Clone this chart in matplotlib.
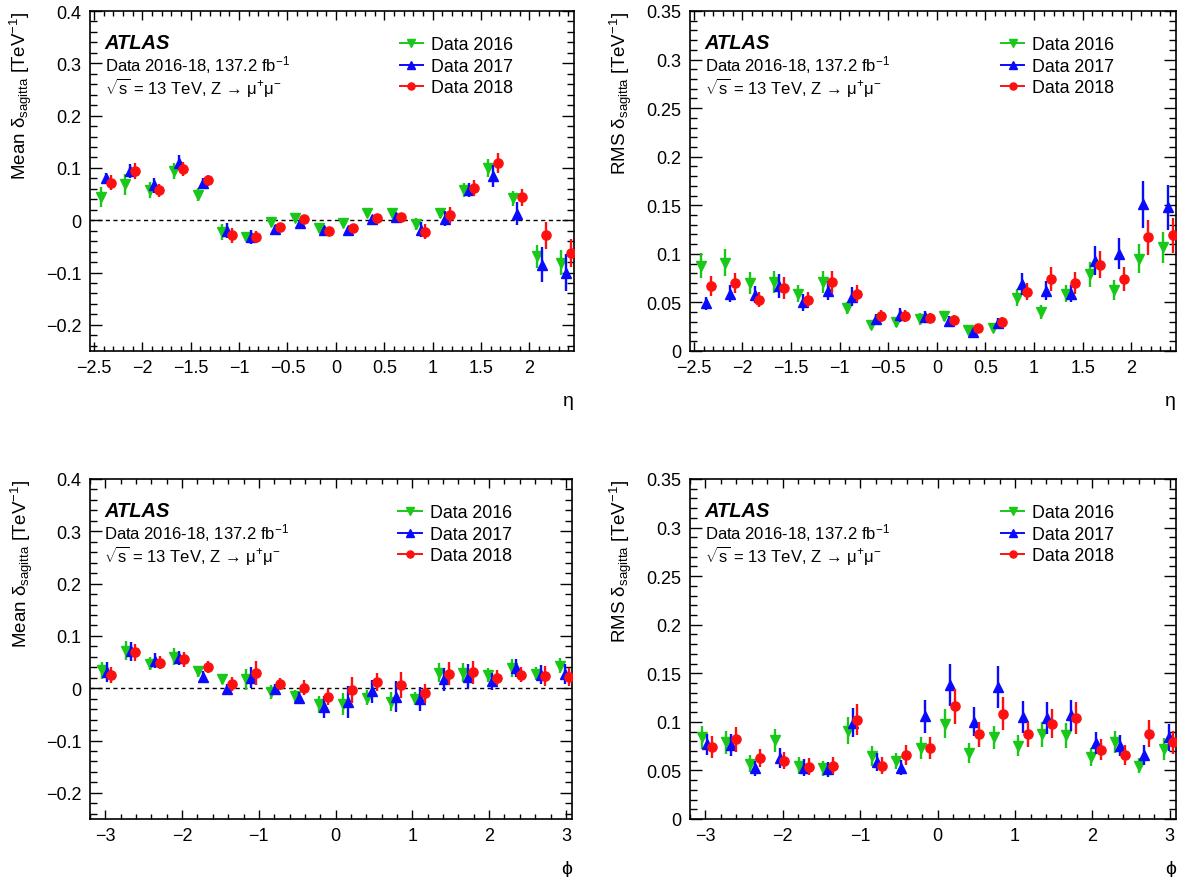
import matplotlib
matplotlib.use("Agg")
import matplotlib.pyplot as plt
import numpy as np
from matplotlib.lines import Line2D
from matplotlib.ticker import MultipleLocator, FuncFormatter

plt.rcParams['font.family'] = ['Liberation Sans', 'DejaVu Sans']
plt.rcParams['mathtext.fontset'] = 'custom'
plt.rcParams['mathtext.rm'] = 'Liberation Sans'
plt.rcParams['mathtext.it'] = 'Liberation Sans:italic'
plt.rcParams['mathtext.bf'] = 'Liberation Sans:bold'

# binning
eta_edges = np.linspace(-2.5, 2.5, 21)
phi_edges = np.linspace(-np.pi, np.pi, 21)
eta_x = 0.5 * (eta_edges[1:] + eta_edges[:-1])
phi_x = 0.5 * (phi_edges[1:] + phi_edges[:-1])

years = ["Data 2016", "Data 2017", "Data 2018"]

# mean sagitta bias vs eta
mean_eta_2016 = [0.044, 0.069, 0.058, 0.094, 0.049, -0.022, -0.032, -0.004, 0.004, -0.015,
                 -0.005, 0.014, 0.014, -0.007, 0.014, 0.058, 0.100, 0.042, -0.069, -0.081]
mean_eta_2016_err = [0.019, 0.020, 0.016, 0.016, 0.013, 0.015, 0.007, 0.005, 0.005, 0.005,
                     0.005, 0.005, 0.005, 0.012, 0.009, 0.013, 0.017, 0.014, 0.022, 0.024]
mean_eta_2017 = [0.080, 0.094, 0.067, 0.110, 0.071, -0.020, -0.032, -0.016, -0.005, -0.019,
                 -0.018, 0.003, 0.007, -0.018, 0.003, 0.058, 0.084, 0.012, -0.085, -0.100]
mean_eta_2017_err = [0.010, 0.013, 0.014, 0.014, 0.010, 0.014, 0.013, 0.006, 0.006, 0.005,
                     0.006, 0.006, 0.006, 0.015, 0.014, 0.014, 0.021, 0.022, 0.033, 0.035]
mean_eta_2018 = [0.072, 0.094, 0.057, 0.098, 0.076, -0.029, -0.032, -0.012, 0.002, -0.020,
                 -0.015, 0.004, 0.006, -0.022, 0.010, 0.062, 0.110, 0.044, -0.029, -0.062]
mean_eta_2018_err = [0.014, 0.015, 0.012, 0.014, 0.010, 0.015, 0.012, 0.006, 0.006, 0.006,
                     0.006, 0.006, 0.006, 0.014, 0.016, 0.015, 0.019, 0.016, 0.026, 0.027]

# rms vs eta
rms_eta_2016 = [0.088, 0.091, 0.070, 0.071, 0.059, 0.071, 0.044, 0.027, 0.030, 0.033,
                0.036, 0.022, 0.024, 0.055, 0.040, 0.059, 0.079, 0.063, 0.095, 0.107]
rms_eta_2016_err = [0.013, 0.014, 0.011, 0.011, 0.009, 0.011, 0.006, 0.004, 0.005, 0.006,
                    0.005, 0.003, 0.004, 0.009, 0.007, 0.009, 0.013, 0.010, 0.015, 0.016]
rms_eta_2017 = [0.049, 0.059, 0.058, 0.067, 0.050, 0.062, 0.056, 0.033, 0.037, 0.035,
                0.031, 0.020, 0.029, 0.069, 0.062, 0.059, 0.093, 0.100, 0.151, 0.148]
rms_eta_2017_err = [0.007, 0.009, 0.009, 0.012, 0.009, 0.010, 0.010, 0.005, 0.007, 0.006,
                    0.005, 0.003, 0.005, 0.011, 0.010, 0.009, 0.015, 0.016, 0.024, 0.023]
rms_eta_2018 = [0.067, 0.070, 0.053, 0.065, 0.053, 0.071, 0.059, 0.036, 0.036, 0.034,
                0.032, 0.024, 0.030, 0.061, 0.074, 0.070, 0.089, 0.074, 0.117, 0.119]
rms_eta_2018_err = [0.010, 0.010, 0.008, 0.011, 0.008, 0.011, 0.009, 0.006, 0.006, 0.005,
                    0.005, 0.004, 0.005, 0.009, 0.012, 0.011, 0.014, 0.012, 0.018, 0.018]

# mean vs phi
mean_phi_2016 = [0.034, 0.072, 0.047, 0.060, 0.032, 0.018, 0.017, -0.007, -0.015, -0.031,
                 -0.031, -0.018, -0.026, -0.020, 0.030, 0.030, 0.025, 0.039, 0.028, 0.043]
mean_phi_2016_err = [0.017, 0.018, 0.013, 0.016, 0.010, 0.010, 0.020, 0.014, 0.012, 0.016,
                     0.021, 0.014, 0.018, 0.012, 0.018, 0.018, 0.014, 0.017, 0.013, 0.014]
mean_phi_2017 = [0.031, 0.071, 0.053, 0.058, 0.022, -0.002, 0.020, -0.002, -0.018, -0.035,
                 -0.026, -0.006, -0.016, -0.020, 0.017, 0.022, 0.013, 0.038, 0.026, 0.028]
mean_phi_2017_err = [0.020, 0.018, 0.014, 0.014, 0.010, 0.010, 0.020, 0.011, 0.010, 0.021,
                     0.030, 0.022, 0.030, 0.023, 0.022, 0.024, 0.017, 0.017, 0.018, 0.019]
mean_phi_2018 = [0.025, 0.069, 0.049, 0.055, 0.041, 0.008, 0.029, 0.008, 0.001, -0.017,
                 -0.004, 0.012, 0.006, -0.010, 0.028, 0.031, 0.020, 0.026, 0.024, 0.022]
mean_phi_2018_err = [0.015, 0.016, 0.013, 0.014, 0.012, 0.013, 0.023, 0.012, 0.014, 0.016,
                     0.025, 0.018, 0.025, 0.018, 0.022, 0.022, 0.014, 0.014, 0.019, 0.017]

# rms vs phi
rms_phi_2016 = [0.084, 0.079, 0.057, 0.081, 0.055, 0.052, 0.091, 0.065, 0.0595, 0.073,
                0.098, 0.068, 0.084, 0.0755, 0.087, 0.086, 0.064, 0.079, 0.055, 0.072]
rms_phi_2016_err = [0.012, 0.012, 0.0085, 0.012, 0.009, 0.008, 0.014, 0.010, 0.0085, 0.011,
                    0.015, 0.010, 0.012, 0.011, 0.013, 0.013, 0.009, 0.0115, 0.0075, 0.011]
rms_phi_2017 = [0.077, 0.076, 0.052, 0.063, 0.053, 0.051, 0.099, 0.0585, 0.053, 0.106,
                0.138, 0.100, 0.136, 0.105, 0.104, 0.107, 0.078, 0.0755, 0.066, 0.084]
rms_phi_2017_err = [0.011, 0.011, 0.008, 0.010, 0.0085, 0.008, 0.015, 0.009, 0.0075, 0.017,
                    0.022, 0.015, 0.022, 0.016, 0.016, 0.016, 0.0115, 0.011, 0.010, 0.014]
rms_phi_2018 = [0.074, 0.082, 0.063, 0.060, 0.054, 0.055, 0.102, 0.055, 0.066, 0.073,
                0.116, 0.087, 0.1085, 0.087, 0.098, 0.104, 0.0715, 0.066, 0.088, 0.079]
rms_phi_2018_err = [0.011, 0.013, 0.009, 0.009, 0.0085, 0.0085, 0.016, 0.0085, 0.010, 0.011,
                    0.018, 0.013, 0.017, 0.013, 0.015, 0.016, 0.011, 0.010, 0.0135, 0.012]

colors = ['#19c819', '#0a0aff', '#ff1010']
markers = ['v', '^', 'o']
msizes = [6.8, 6.8, 6.6]
shift = [-0.2, 0.0, 0.2]   # fraction of bin width


def fmt(v, p):
    if abs(v) < 1e-9:
        return '0'
    return ('%g' % round(v, 3)).replace('-', '\u2212')


def panel(ax, x, bw, series, xlim, ylim, ymaj, ymin, xmaj, xmin, ylabel, xlabel, zero_line):
    if zero_line:
        ax.axhline(0, color='k', lw=1, ls=(0, (3, 2.5)), zorder=1)
    for i, (y, e) in enumerate(series):
        ax.errorbar(x + shift[i] * bw, y, yerr=e, fmt=markers[i], color=colors[i],
                    ms=msizes[i], lw=1.7, capsize=0, zorder=3 + i)
    ax.set_xlim(*xlim)
    ax.set_ylim(*ylim)
    ax.xaxis.set_major_locator(MultipleLocator(xmaj))
    ax.xaxis.set_minor_locator(MultipleLocator(xmin))
    ax.yaxis.set_major_locator(MultipleLocator(ymaj))
    ax.yaxis.set_minor_locator(MultipleLocator(ymin))
    ax.xaxis.set_major_formatter(FuncFormatter(fmt))
    ax.yaxis.set_major_formatter(FuncFormatter(fmt))
    ax.tick_params(which='both', direction='in', top=True, right=True, labelsize=13, width=1)
    ax.tick_params(axis='x', which='major', length=6.5, pad=6)
    ax.tick_params(axis='x', which='minor', length=3.6)
    ax.tick_params(axis='y', which='major', length=8.6, pad=6)
    ax.tick_params(axis='y', which='minor', length=5)
    for s in ax.spines.values():
        s.set_linewidth(1.2)
    ax.set_ylabel(ylabel, fontsize=13.5, loc='top')
    ax.yaxis.set_label_coords(-0.115, 1.0)
    ax.set_xlabel(xlabel, fontsize=14, loc='right')
    ax.xaxis.set_label_coords(1.0, -0.12)
    ax.text(0.03, 0.906, 'ATLAS', transform=ax.transAxes, fontsize=14.5,
            fontweight='bold', fontstyle='italic', va='center')
    ax.text(0.03, 0.843, r'Data 2016-18, 137.2 fb$^{\mathrm{-1}}$', transform=ax.transAxes,
            fontsize=12, va='center')
    ax.text(0.03, 0.778, r'$\sqrt{\mathrm{s}}$ = 13 TeV, Z → $\mathrm{\mu^{+}\mu^{-}}$',
            transform=ax.transAxes, fontsize=12, va='center')
    handles = [Line2D([], [], color=colors[i], marker=markers[i], ms=msizes[i] - 1.5, lw=1.4)
               for i in range(3)]
    ax.legend(handles, years, loc='upper left', bbox_to_anchor=(0.64, 0.925), frameon=False,
              fontsize=12.8, handlelength=1.3, handletextpad=0.45, labelspacing=0.25,
              borderpad=0, borderaxespad=0)


fig = plt.figure(figsize=(11.83, 8.78), dpi=100)
W, H = 1183.0, 878.0
ax1 = fig.add_axes([90 / W, 1 - 352 / H, 484 / W, 340 / H])
ax2 = fig.add_axes([690 / W, 1 - 352 / H, 486 / W, 340 / H])
ax3 = fig.add_axes([90 / W, 1 - 820 / H, 482 / W, 340 / H])
ax4 = fig.add_axes([690 / W, 1 - 820 / H, 486 / W, 340 / H])

mean_lab = r'Mean $\mathrm{\delta_{sagitta}}$ [TeV$^{\mathrm{-1}}$]'
rms_lab = r'RMS $\mathrm{\delta_{sagitta}}$ [TeV$^{\mathrm{-1}}$]'

panel(ax1, eta_x, 0.25,
      [(mean_eta_2016, mean_eta_2016_err), (mean_eta_2017, mean_eta_2017_err),
       (mean_eta_2018, mean_eta_2018_err)],
      (-2.54, 2.46), (-0.25, 0.4), 0.1, 0.02, 0.5, 0.1, mean_lab, 'η', True)
panel(ax2, eta_x, 0.25,
      [(rms_eta_2016, rms_eta_2016_err), (rms_eta_2017, rms_eta_2017_err),
       (rms_eta_2018, rms_eta_2018_err)],
      (-2.54, 2.46), (0, 0.35), 0.05, 0.01, 0.5, 0.1, rms_lab, 'η', False)
panel(ax3, phi_x, 2 * np.pi / 20,
      [(mean_phi_2016, mean_phi_2016_err), (mean_phi_2017, mean_phi_2017_err),
       (mean_phi_2018, mean_phi_2018_err)],
      (-3.2, 3.08), (-0.25, 0.4), 0.1, 0.02, 1, 0.2, mean_lab, 'ϕ', True)
panel(ax4, phi_x, 2 * np.pi / 20,
      [(rms_phi_2016, rms_phi_2016_err), (rms_phi_2017, rms_phi_2017_err),
       (rms_phi_2018, rms_phi_2018_err)],
      (-3.2, 3.08), (0, 0.35), 0.05, 0.01, 1, 0.2, rms_lab, 'ϕ', False)

fig.savefig('out.png', dpi=100)
